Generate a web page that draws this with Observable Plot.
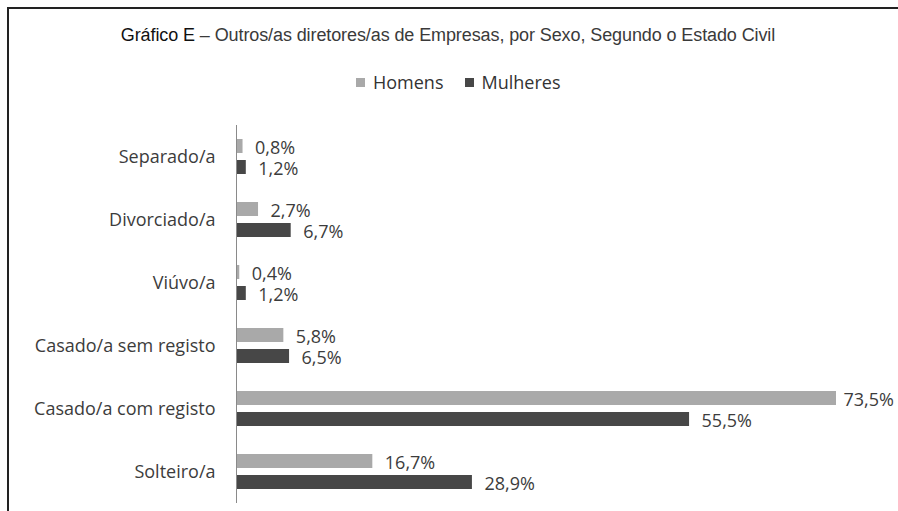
<!DOCTYPE html>
<html>
<head>
<meta charset="utf-8">
<script src="https://cdn.jsdelivr.net/npm/d3@7"></script>
<script src="https://cdn.jsdelivr.net/npm/@observablehq/plot@0.6"></script>
<style>
  html, body { margin: 0; padding: 0; background: #fff; }
  body { width: 898px; height: 511px; position: relative; overflow: hidden; }
  #frame { position: absolute; left: 7px; top: 7px; right: -10px; bottom: -10px;
           border-left: 2px solid #222; border-top: 2px solid #222; }
  #title { position: absolute; left: 0; top: 24px; width: 896px; text-align: center;
           font-family: "Liberation Sans", Arial, sans-serif; font-size: 18px; line-height: 22px; color: #3a3a3a; letter-spacing: -0.1px; }
  #title b { font-weight: normal; color: #111; }
  #legend { position: absolute; left: 356px; top: 71px; display: flex; align-items: center;
            font-family: "Open Sans", sans-serif; font-size: 18px; line-height: 22px; color: #333; }
  #legend .item { display: flex; align-items: center; margin-right: 21px; }
  #legend .sw { width: 9px; height: 9px; margin-right: 8px; }
  #chart { position: absolute; left: 0; top: 100px; }
</style>
</head>
<body>
<div id="frame"></div>
<div id="title"><b>Gráfico E</b> – Outros/as diretores/as de Empresas, por Sexo, Segundo o Estado Civil</div>
<div id="legend"></div>
<div id="chart"></div>
<script>
const categories = ["Separado/a", "Divorciado/a", "Viúvo/a", "Casado/a sem registo", "Casado/a com registo", "Solteiro/a"];
const series = ["Homens", "Mulheres"];
const homens = [0.8, 2.7, 0.4, 5.8, 73.5, 16.7];
const mulheres = [1.2, 6.7, 1.2, 6.5, 55.5, 28.9];
const colors = ["#a9a9a9", "#474747"];

const data = [];
categories.forEach((c, i) => {
  data.push({cat: c, sex: series[0], value: homens[i]});
  data.push({cat: c, sex: series[1], value: mulheres[i]});
});
const fmt = v => v.toFixed(1).replace(".", ",") + "%";
const maxV = d3.max(data, d => d.value);

// legend
const legend = document.getElementById("legend");
series.forEach((s, i) => {
  const it = document.createElement("div");
  it.className = "item";
  const sw = document.createElement("div");
  sw.className = "sw";
  sw.style.background = colors[i];
  const t = document.createElement("span");
  t.textContent = s;
  it.appendChild(sw); it.appendChild(t);
  legend.appendChild(it);
});

const chart = Plot.plot({
  width: 898,
  height: 411,
  marginLeft: 236,
  marginRight: 62,
  marginTop: 23,
  marginBottom: 6,
  style: {background: "transparent", fontFamily: "Open Sans, sans-serif", fontSize: "18px", color: "#3c3c3c"},
  x: {domain: [0, maxV], axis: null},
  y: {domain: series, axis: null, paddingInner: 0.32, paddingOuter: 0.6},
  fy: {domain: categories, padding: 0, axis: "left", label: null, tickSize: 0, tickPadding: 21},
  color: {domain: series, range: colors},
  marks: [
    Plot.barX(data, {x: "value", y: "sex", fy: "cat", fill: "sex"}),
    Plot.ruleX([0], {stroke: "#8a8a8a", strokeWidth: 1}),
    Plot.text(data.filter(d => d.value < maxV), {x: "value", y: "sex", fy: "cat", text: d => fmt(d.value),
      textAnchor: "start", dx: 12, dy: 2, fill: "#3c3c3c", fontSize: 18}),
    Plot.text(data.filter(d => d.value >= maxV), {x: "value", y: "sex", fy: "cat", text: d => fmt(d.value),
      textAnchor: "start", dx: 7, dy: 2, fill: "#3c3c3c", fontSize: 18})
  ]
});
document.getElementById("chart").appendChild(chart);
</script>
</body>
</html>
